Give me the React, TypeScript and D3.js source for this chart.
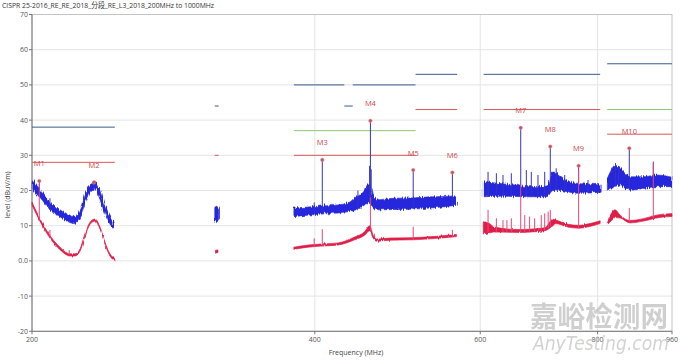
// @ts-nocheck
import React from 'react'
import * as d3 from 'd3'

const title = 'CISPR 25-2016_RE_RE_2018_分段_RE_L3_2018_200MHz to 1000MHz'
const xTicks = [200, 400, 600, 800, 960]
const yTicks = [-20, -10, 0, 10, 20, 30, 40, 50, 60, 70]

// limit lines: [fromMHz, toMHz, level]
const peakLimit = [
  [200, 245, 38],
  [313, 316, 44],
  [380, 430, 50],
  [430, 439, 44],
  [439, 512, 50],
  [512, 567, 53],
  [605, 805, 53],
  [819, 960, 56],
]
const qpLimit = [
  [380, 512, 37],
  [819, 960, 43],
]
const avgLimit = [
  [200, 245, 28],
  [313, 316, 30],
  [380, 512, 30],
  [512, 567, 43],
  [605, 805, 43],
  [819, 960, 36],
]

// peak trace bands: [MHz, low, high]
const peakBands = [
  [
    [200, 20.3, 22.8], [204, 18, 20.4], [209, 14.5, 16.6], [214, 12.6, 14.6], [219.5, 10.9, 12.9],
    [222, 10.6, 12.6], [225, 12.3, 14.6], [227.7, 16.6, 19], [230.6, 19.4, 21.6], [233.4, 20.2, 22.4],
    [236.3, 17.4, 19.8], [239.2, 13.3, 15.6], [242.1, 10.5, 12.6], [244, 9.2, 11.3],
  ],
  [[313, 11.5, 15.2], [314.5, 11.2, 15.5], [316, 11.8, 14.8]],
  [
    [380, 12.6, 15], [393, 13, 15.3], [406, 13.3, 15.6], [423, 13.6, 15.9], [435, 14, 16.6],
    [441, 14.4, 17.9], [447, 15, 18.8], [452, 15.9, 20], [457, 16.5, 22], [461, 15, 18.5],
    [469, 14.5, 17.4], [485, 14.6, 17.8], [508, 14.7, 17.9], [530, 15, 18.2], [550, 15.4, 18.3],
    [566, 15.8, 18.5],
  ],
  [
    [604.5, 18.2, 22.5], [630, 18.4, 22], [655, 18.3, 21.5], [675, 18.2, 21.1], [703, 18.2, 21.2],
    [708.7, 18.5, 21.5], [717, 20, 25.3], [729.5, 20, 24], [747.6, 19.5, 22.5], [763.6, 19.2, 22],
    [785, 19.3, 21.8], [805, 19.5, 21.6],
  ],
  [
    [819.4, 20.1, 23.5], [826, 20.6, 25.5], [834.8, 21.1, 27.2], [845.2, 21.6, 26.3], [856, 20.8, 24.8],
    [866, 20.1, 23.9], [894.8, 20.6, 23.9], [924.7, 21.1, 24.4], [955.4, 21.1, 23.9], [960, 21.2, 23.8],
  ],
]

// average trace bands: [MHz, low, high]
const avgBands = [
  [
    [200, 15.9, 16.7], [204, 11.2, 11.9], [209, 6.5, 7.2], [214.2, 3.2, 3.9], [219.5, 1.4, 2],
    [222.2, 1.4, 2], [225, 2.8, 3.4], [227.7, 7, 7.7], [230.6, 10.4, 11], [233.4, 11.3, 11.9],
    [236.3, 9, 9.6], [239.2, 4.7, 5.3], [242.1, 1.4, 2], [245, 0.1, 0.7],
  ],
  [[313.5, 2.2, 3], [315.5, 2.4, 3.1]],
  [
    [380, 3.3, 3.9], [393.4, 3.9, 4.5], [406, 4.2, 4.8], [423.4, 4.5, 5.1], [441, 6, 6.8],
    [452, 7.3, 8.3], [457.6, 8.6, 10], [461.5, 6.5, 7.3], [465.4, 5.6, 6.2], [481, 5.9, 6.5],
    [508.5, 6, 6.6], [539.5, 6.4, 7], [561.6, 6.8, 7.4], [566, 6.9, 7.5],
  ],
  [
    [604.5, 7.7, 11.1], [614.6, 8, 10.5], [621, 8.2, 9.6], [658, 8.1, 8.9], [703, 8.6, 9.4],
    [717, 10, 11.8], [722, 10.6, 11.6], [744, 9.6, 10.4], [763.6, 9.3, 10.1], [785, 9.8, 10.6],
    [805, 10.6, 11.4],
  ],
  [
    [819.4, 10.3, 11.1], [828, 11.5, 13.6], [834.8, 12.3, 14.5], [845.2, 12.2, 13], [866, 10.8, 11.5],
    [894.8, 11.3, 12], [924.7, 12.2, 13], [955.4, 12.6, 13.4], [960, 12.6, 13.4],
  ],
]

// narrow spikes: [MHz, top level]
const peakSpikes = [
  [203.6, 22.7], [209, 17.8], [232.8, 22.3],
  [399.4, 16.6], [407.4, 28.7], [444.6, 20], [457.5, 27], [458.4, 39.8], [459.3, 26],
  [509.1, 25.8], [560.4, 25.1],
  [611.6, 25.3], [624.2, 24.9], [634.4, 24.4], [647.5, 24.9], [662.6, 37.8], [671.8, 25.8],
  [680, 25.3], [691.2, 24.4], [702.7, 25.3], [712.4, 32.5], [722.8, 26.3], [738, 24.4],
  [763.6, 27], [781.4, 23],
  [836, 27.8], [842, 27], [864.6, 32], [917, 28.2],
]
const avgSpikes = [
  [203.6, 21.8], [209, 8.8], [219.1, 3.1],
  [399.4, 6.4], [407.4, 9], [458.4, 18], [509.1, 9.7], [560.4, 8.8],
  [611.6, 14.5], [624.2, 12.1], [634.4, 11.6], [640.6, 11.6], [647.5, 12.1], [662.6, 22],
  [669.2, 13], [677.2, 12.6], [685.6, 12.1], [696.8, 13], [702.7, 13.5], [708.7, 14],
  [712.4, 14.5], [763.6, 26],
  [864.6, 15], [917, 27.8],
]

const markers = [
  ['M1', 203.6, 22.7],
  ['M2', 232.8, 22.3],
  ['M3', 407.4, 28.7],
  ['M4', 458.4, 39.8],
  ['M5', 509.1, 25.8],
  ['M6', 560.4, 25.1],
  ['M7', 662.6, 37.8],
  ['M8', 712.4, 32.5],
  ['M9', 763.6, 27],
  ['M10', 864.6, 32],
]

const W = 680
const H = 360
const left = 32
const right = 672
const top = 14.5
const bottom = 331.3

const x = d3.scaleLog().domain([200, 960]).range([left, right])
const y = d3.scaleLinear().domain([-20, 70]).range([bottom, top])

const band = d3
  .area()
  .x((d) => x(d[0]))
  .y0((d) => y(d[1]))
  .y1((d) => y(d[2]))
  .curve(d3.curveMonotoneX)

const font = "'Open Sans', 'Noto Sans', 'Noto Sans CJK SC', sans-serif"

// level of a band's lower edge at frequency f
const edgeAt = (bands, f, i) => {
  for (const seg of bands) {
    if (f >= seg[0][0] && f <= seg[seg.length - 1][0]) {
      for (let k = 1; k < seg.length; k++) {
        if (f <= seg[k][0]) {
          const a = seg[k - 1]
          const b = seg[k]
          const t = (f - a[0]) / (b[0] - a[0] || 1)
          return a[i] + (b[i] - a[i]) * t
        }
      }
    }
  }
  return 0
}

const Limits = ({ data, color }) => (
  <g stroke={color} strokeWidth={1}>
    {data.map((d, i) => (
      <line key={i} x1={x(d[0])} x2={x(d[1])} y1={y(d[2])} y2={y(d[2])} />
    ))}
  </g>
)

export default function App() {
  return (
    <>
      <style>{`body{margin:0}`}</style>
      <svg width={W} height={H} style={{ display: 'block', background: '#fff' }} fontFamily={font}>
        <defs>
          {/* jagged texture for the dense receiver traces */}
          <filter id="grain" x="-2%" y="-30%" width="104%" height="160%">
            <feTurbulence type="fractalNoise" baseFrequency="0.9 0.04" numOctaves="2" seed="3" result="n" />
            <feDisplacementMap in="SourceGraphic" in2="n" scale="5" xChannelSelector="B" yChannelSelector="R" />
          </filter>
          <filter id="grainSoft" x="-2%" y="-30%" width="104%" height="160%">
            <feTurbulence type="fractalNoise" baseFrequency="0.9 0.04" numOctaves="2" seed="7" result="n" />
            <feDisplacementMap in="SourceGraphic" in2="n" scale="2.5" xChannelSelector="B" yChannelSelector="R" />
          </filter>
        </defs>

        <text x={2} y={8} fontSize={7.5} fill="#333" textLength={212} lengthAdjust="spacingAndGlyphs">
          {title}
        </text>

        {/* grid */}
        <g stroke="#e4e4e4" strokeWidth={1}>
          {yTicks.slice(1, -1).map((t) => (
            <line key={t} x1={left} x2={right} y1={y(t)} y2={y(t)} />
          ))}
          {xTicks.slice(1, -1).map((t) => (
            <line key={t} x1={x(t)} x2={x(t)} y1={top} y2={bottom} />
          ))}
        </g>
        <rect x={left} y={y(70)} width={right - left} height={bottom - y(70)} fill="none" stroke="#c4c4c4" />
        <line x1={left} x2={left} y1={top} y2={bottom} stroke="#777" />
        <line x1={left} x2={right} y1={bottom} y2={bottom} stroke="#777" />

        {/* y axis */}
        <g fontSize={7} fill="#555" textAnchor="end">
          {yTicks.map((t) => (
            <g key={t}>
              <line x1={left - 3} x2={left} y1={y(t)} y2={y(t)} stroke="#777" />
              <text x={left - 4} y={y(t) + 2.5}>
                {t === 0 ? '0.0' : t}
              </text>
            </g>
          ))}
        </g>
        <text
          transform={`translate(10, ${(top + bottom) / 2 + 22}) rotate(-90)`}
          fontSize={7}
          fill="#444"
          textAnchor="middle"
        >
          level (dBuV/m)
        </text>

        {/* x axis */}
        <g fontSize={7} fill="#555" textAnchor="middle">
          {xTicks.map((t) => (
            <g key={t}>
              <line x1={x(t)} x2={x(t)} y1={bottom} y2={bottom + 3} stroke="#777" />
              <text x={x(t)} y={bottom + 11}>
                {t}
              </text>
            </g>
          ))}
        </g>
        <text x={(left + right) / 2 + 4} y={355} fontSize={7} fill="#444" textAnchor="middle">
          Frequency (MHz)
        </text>

        {/* limits */}
        <Limits data={peakLimit} color="#3d5a8c" />
        <Limits data={qpLimit} color="#8cc870" />
        <Limits data={avgLimit} color="#d85858" />

        {/* peak trace */}
        <g fill="#2626dc" stroke="#2626dc" strokeWidth={0.6} filter="url(#grain)">
          {peakBands.map((seg, i) => (
            <path key={i} d={band(seg)} />
          ))}
        </g>
        <g stroke="#3434c4" strokeWidth={1}>
          {peakSpikes.map((s, i) => (
            <line key={i} x1={x(s[0])} x2={x(s[0])} y1={y(edgeAt(peakBands, s[0], 1))} y2={y(s[1])} />
          ))}
        </g>

        {/* average trace */}
        <g fill="#e01e48" stroke="#e01e48" strokeWidth={0.7} filter="url(#grainSoft)">
          {avgBands.map((seg, i) => (
            <path key={i} d={band(seg)} />
          ))}
        </g>
        <g stroke="#e0487a" strokeWidth={1}>
          {avgSpikes.map((s, i) => (
            <line key={i} x1={x(s[0])} x2={x(s[0])} y1={y(edgeAt(avgBands, s[0], 1))} y2={y(s[1])} />
          ))}
        </g>

        {/* markers */}
        <g>
          {markers.map(([label, f, v]) => (
            <g key={label}>
              <circle cx={x(f)} cy={y(v)} r={1.8} fill="#c8505a" stroke="#e8a0a8" strokeWidth={0.5} />
              <text x={x(f)} y={y(v) - 14.5} fontSize={7.5} fill="#d04848" textAnchor="middle">
                {label}
              </text>
            </g>
          ))}
        </g>

        {/* watermark */}
        <text x={530} y={327} fontSize={28} fontWeight="bold" fill="#bcbcbc" opacity={0.7}
          fontFamily="'Noto Sans CJK SC', sans-serif" textLength={138} lengthAdjust="spacingAndGlyphs">
          嘉峪检测网
        </text>
        <text x={533} y={350} fontSize={19} fontStyle="italic" fill="#c4c4c4" opacity={0.75}
          fontFamily="'DejaVu Sans', sans-serif" textLength={136} lengthAdjust="spacingAndGlyphs">
          AnyTesting.com
        </text>
      </svg>
    </>
  )
}
